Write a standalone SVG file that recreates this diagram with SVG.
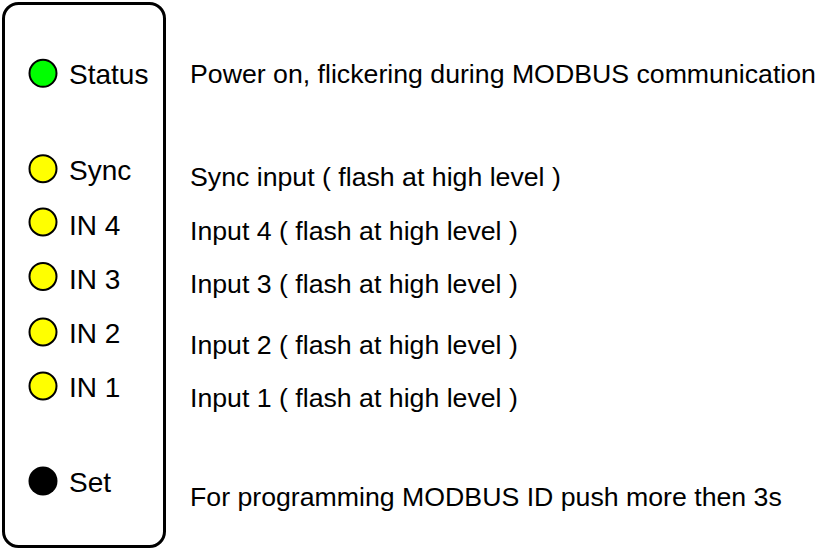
<svg xmlns="http://www.w3.org/2000/svg" width="817" height="550" viewBox="0 0 817 550">
<style>
text{font-family:"Liberation Sans",Arial,sans-serif;font-size:26.7px;fill:#000}
text.lb{font-size:28px}
.led{stroke:#000;stroke-width:2}
.y{fill:#ffff00}
</style>
<rect width="817" height="550" fill="#fff"/>
<g id="panel">
<rect x="3.5" y="3.5" width="161" height="543" rx="15" ry="15" fill="#fff" stroke="#000" stroke-width="3"/>
</g>
<g id="status">
<circle class="led" cx="43" cy="73.3" r="13.5" fill="#00ff00"/>
<text class="lb" x="69" y="83.5">Status</text>
<text x="190" y="83">Power on, flickering during MODBUS communication</text>
</g>
<g id="sync">
<circle class="led y" cx="43" cy="168.7" r="13.5"/>
<text class="lb" x="69" y="179.5">Sync</text>
<text x="190" y="186">Sync input ( flash at high level )</text>
</g>
<g id="in4">
<circle class="led y" cx="43" cy="222" r="13.5"/>
<text class="lb" x="69" y="235">IN 4</text>
<text x="190" y="240">Input 4 ( flash at high level )</text>
</g>
<g id="in3">
<circle class="led y" cx="43" cy="276.5" r="13.5"/>
<text class="lb" x="69" y="288.5">IN 3</text>
<text x="190" y="293">Input 3 ( flash at high level )</text>
</g>
<g id="in2">
<circle class="led y" cx="43" cy="332" r="13.5"/>
<text class="lb" x="69" y="343">IN 2</text>
<text x="190" y="354">Input 2 ( flash at high level )</text>
</g>
<g id="in1">
<circle class="led y" cx="43" cy="386" r="13.5"/>
<text class="lb" x="69" y="397">IN 1</text>
<text x="190" y="406.5">Input 1 ( flash at high level )</text>
</g>
<g id="set">
<circle cx="43" cy="481" r="14.5" fill="#000"/>
<text class="lb" x="69" y="492">Set</text>
<text x="190" y="505.5">For programming MODBUS ID push more then 3s</text>
</g>
<g id="connectors"></g>
</svg>
